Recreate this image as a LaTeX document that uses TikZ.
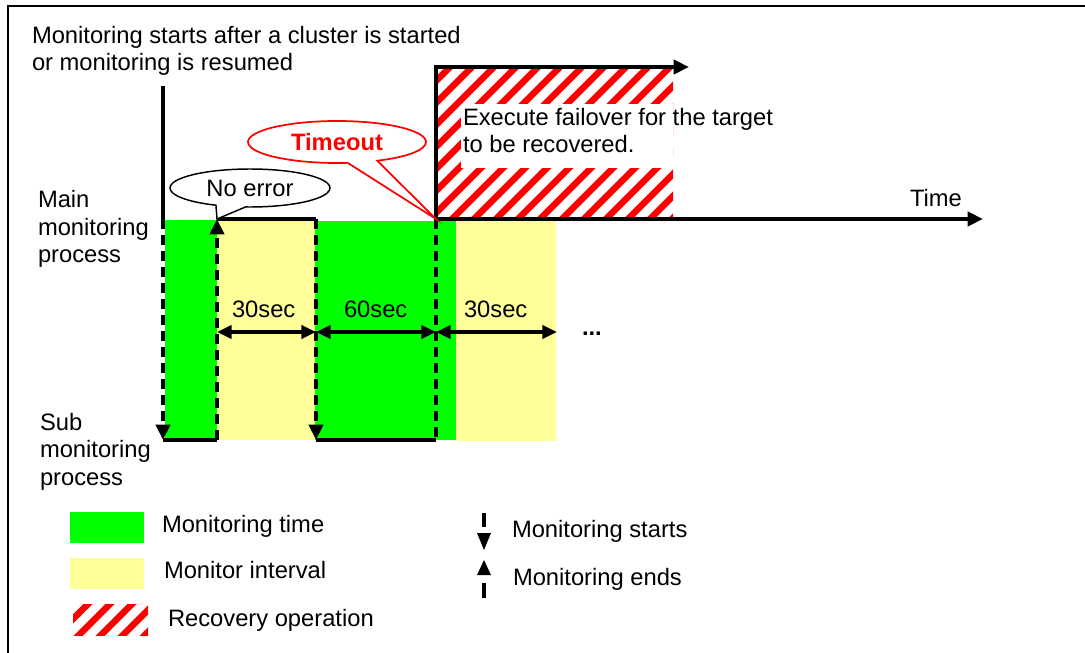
\documentclass[tikz,border=0pt]{standalone}
\usepackage{fontspec}
\setmainfont{Liberation Sans}
\usetikzlibrary{arrows.meta,shapes.callouts,calc}
\definecolor{mongreen}{RGB}{0,255,0}
\definecolor{monyellow}{RGB}{255,255,153}
\definecolor{recred}{RGB}{255,0,0}
\tikzset{
  every node/.style={font=\fontsize{17.8}{21}\selectfont, inner sep=0pt, outer sep=0pt},
  lbl/.style={anchor=base west},
  tipend/.style={-{Triangle[length=11.5pt,width=10.5pt]}},
  bitip/.style={{Triangle[length=11pt,width=10pt]}-{Triangle[length=11pt,width=10pt]}},
  axisline/.style={line width=3pt},
  subline/.style={line width=2.5pt},
  dashv/.style={line width=3pt, dash pattern=on 7.5pt off 4.5pt},
  hatchline/.style={recred, line width=5pt},
  spanarrow/.style={line width=2.5pt, bitip},
}
\begin{document}
\begin{tikzpicture}[x=0.75pt,y=-0.75pt]
\useasboundingbox (0,0) rectangle (1085,653);
% frame
\draw[line width=1.3pt] (8,670) -- (8,6) -- (1100,6);

% blocks
\fill[mongreen] (165,220) rectangle (217,440);
\fill[monyellow] (217,220) rectangle (315,440);
\fill[mongreen] (315,221) rectangle (456,440);
\fill[monyellow] (456,221) rectangle (556,441);

% recovery hatch
\begin{scope}
  \clip (437,69) rectangle (673,219);
  \foreach \k in {270,292,...,680} \draw[hatchline] (\k,225) -- ++(170,-170);
\end{scope}
\fill[white] (461,104) rectangle (673,168);

% key points
\coordinate (a0) at (163,86);
\coordinate (a1) at (163,219);
\coordinate (a2) at (163,440);
\coordinate (b1) at (217,219);
\coordinate (b2) at (217,440);
\coordinate (c1) at (316,219);
\coordinate (c2) at (316,440);
\coordinate (d0) at (436,67);
\coordinate (d1) at (436,219);
\coordinate (d2) at (436,440);
\coordinate (topend) at (689,67);
\coordinate (timeend) at (983,219);
\coordinate (m1) at (217,332);
\coordinate (m2) at (316,332);
\coordinate (m3) at (436,332);
\coordinate (m4) at (557,332);

% timelines
\draw[axisline] (a0) -- (a1);
\draw[dashv, tipend] (a1) -- (a2);
\draw[subline] (a2) -- (b2);
\draw[dashv, tipend] (b2) -- (b1);
\draw[axisline] (b1) -- (c1);
\draw[dashv, tipend] (c1) -- (c2);
\draw[subline] (c2) -- (d2);
\draw[dashv] (d1) -- (d2);
\draw[axisline, tipend] (d1) -- (d0) -- (topend);
\draw[axisline, tipend] (d1) -- (timeend);

% spans
\draw[spanarrow] (m1) -- (m2);
\draw[spanarrow] (m2) -- (m3);
\draw[spanarrow] (m3) -- (m4);
\node[lbl] (s1) at (232,317) {30sec};
\node[lbl] (s2) at (344,317) {60sec};
\node[lbl] (s3) at (464,317) {30sec};
\node[lbl, font=\fontsize{17.8}{21}\selectfont\bfseries] (dots) at (582,335) {...};

% callouts
\node[ellipse callout, draw, fill=white, line width=1.1pt, minimum width=120pt, minimum height=28.5pt,
      callout absolute pointer={(b1)}, callout pointer arc=22] (noerr) at (250,188) {No error};
\node[ellipse callout, draw=recred, fill=white, line width=1.3pt, minimum width=133.5pt, minimum height=31.5pt,
      callout absolute pointer={(d1)}, callout pointer arc=20, text=recred,
      font=\fontsize{17.8}{21}\selectfont\bfseries] (tmo) at (337,142) {Timeout};

% texts
\node[lbl] (t1) at (32,43) {Monitoring starts after a cluster is started};
\node[lbl] (t2) at (32,70) {or monitoring is resumed};
\node[lbl] (mm1) at (38,207) {Main};
\node[lbl] (mm2) at (38,235) {monitoring};
\node[lbl] (mm3) at (38,262) {process};
\node[lbl] (sm1) at (40,430) {Sub};
\node[lbl] (sm2) at (40,457) {monitoring};
\node[lbl] (sm3) at (40,485) {process};
\node[lbl] (time) at (910,206) {Time};
\node[lbl] (ex1) at (463,125) {Execute failover for the target};
\node[lbl] (ex2) at (463,152) {to be recovered.};

% legend
\fill[mongreen] (70,512) rectangle (144,543);
\fill[monyellow] (70,558) rectangle (144,589);
\begin{scope}
  \clip (73,604) rectangle (148,635);
  \foreach \k in {30,52,...,160} \draw[hatchline] (\k,640) -- ++(45,-45);
\end{scope}
\node[lbl] (lg1) at (162,532) {Monitoring time};
\node[lbl] (lg2) at (164,578) {Monitor interval};
\node[lbl] (lg3) at (168,626) {Recovery operation};
\draw[line width=3pt] (484,513) -- (484,527);
\fill (477,533) -- (491,533) -- (484,550) -- cycle;
\fill (477,575) -- (491,575) -- (484,560) -- cycle;
\draw[line width=3pt] (484,583) -- (484,598);
\node[lbl] (lg4) at (512,537) {Monitoring starts};
\node[lbl] (lg5) at (513,585) {Monitoring ends};
\end{tikzpicture}
\end{document}
